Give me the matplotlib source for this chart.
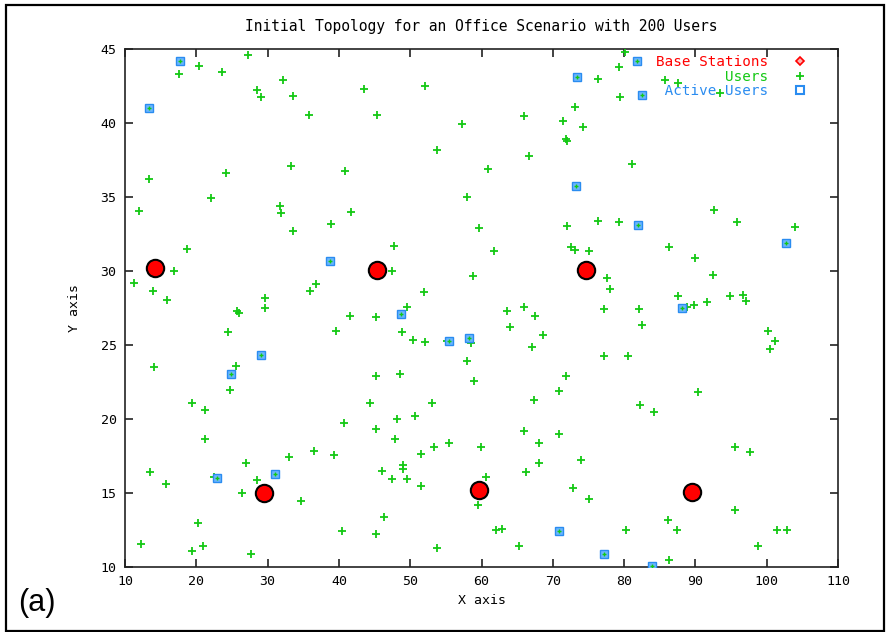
import matplotlib
matplotlib.use("Agg")
import matplotlib.pyplot as plt
from matplotlib.lines import Line2D
from matplotlib.patches import Rectangle

# ---- data ----
bs_x = [14.2, 45.3, 74.7, 29.5, 59.7, 89.5]
bs_y = [30.2, 30.05, 30.05, 15.0, 15.2, 15.1]

users_x = [20.4, 17.6, 23.6, 27.3, 32.1, 28.5, 29.1, 33.6, 35.8, 33.3, 40.9, 13.4, 24.1, 22.0, 12.0,
           31.7, 31.9, 41.7, 38.9, 33.6, 18.65, 16.9, 11.3, 13.9, 15.85, 36.8, 35.9, 29.6, 29.6, 25.7,
           26.0, 41.6, 24.45, 39.6, 14.1, 25.6, 24.7, 19.35, 21.2, 40.7, 21.2, 36.45, 39.3, 32.95, 27.0,
           13.5, 15.7, 22.5, 28.5, 26.45, 34.7, 20.3, 40.5, 12.3, 21.0, 19.35, 27.7, 43.5, 52.1, 45.4,
           57.3, 66.0, 76.3, 73.1, 71.5, 74.2, 71.8, 72.0, 53.7, 66.6, 60.9, 58.0, 59.7, 72.0, 76.4,
           47.7, 61.8, 72.5, 73.05, 75.1, 47.4, 58.85, 52.0, 49.6, 65.9, 63.6, 45.25, 67.5, 64.0, 68.6,
           67.1, 48.8, 50.4, 52.1, 55.2, 58.5, 58.0, 45.25, 48.6, 59.0, 71.85, 70.8, 44.4, 53.0, 67.3,
           48.2, 50.7, 45.25, 47.9, 66.0, 70.8, 55.5, 53.4, 51.5, 59.9, 68.0, 73.9, 68.0, 49.0, 49.0,
           46.0, 66.2, 47.4, 49.5, 60.6, 51.5, 72.9, 75.1, 59.55, 46.3, 45.25, 62.0, 62.9, 53.7, 65.2,
           80.1, 79.3, 79.4, 85.8, 87.6, 93.4, 81.1, 92.6, 79.3, 95.8, 103.9, 86.3, 90.0, 92.5, 77.6,
           78.0, 87.6, 94.9, 96.7, 97.1, 91.6, 89.8, 88.8, 77.2, 82.1, 82.5, 100.2, 101.1, 100.4, 77.2,
           80.5, 90.4, 82.3, 84.2, 95.5, 97.6, 95.6, 86.2, 80.3, 87.4, 101.5, 102.9, 98.8, 86.3]
users_y = [43.85, 43.3, 43.45, 44.6, 42.9, 42.2, 41.75, 41.85, 40.55, 37.1, 36.75, 36.2, 36.6, 34.9, 34.05,
           34.4, 33.9, 34.0, 33.2, 32.7, 31.5, 30.0, 29.2, 28.65, 28.05, 29.15, 28.65, 28.2, 27.5, 27.3,
           27.15, 26.96, 25.85, 25.95, 23.5, 23.6, 21.95, 21.05, 20.6, 19.75, 18.65, 17.85, 17.55, 17.4, 17.0,
           16.4, 15.6, 16.05, 15.9, 15.0, 14.45, 13.0, 12.4, 11.55, 11.4, 11.1, 10.9, 42.3, 42.5, 40.55,
           39.9, 40.5, 42.95, 41.1, 40.15, 39.7, 38.9, 38.8, 38.2, 37.8, 36.9, 35.0, 32.9, 33.05, 33.4,
           31.7, 31.35, 31.6, 31.45, 31.35, 30.0, 29.66, 28.6, 27.6, 27.6, 27.3, 26.9, 26.95, 26.2, 25.7,
           24.85, 25.85, 25.36, 25.2, 25.3, 25.15, 23.9, 22.9, 23.05, 22.55, 22.9, 21.9, 21.1, 21.05, 21.3,
           20.0, 20.2, 19.3, 18.65, 19.2, 19.0, 18.4, 18.1, 17.65, 18.1, 18.4, 17.25, 17.0, 16.9, 16.6,
           16.5, 16.4, 15.95, 15.95, 16.05, 15.5, 15.35, 14.6, 14.2, 13.4, 12.2, 12.5, 12.6, 11.3, 11.45,
           44.8, 43.8, 41.75, 42.9, 42.7, 42.0, 37.2, 34.1, 33.3, 33.3, 33.0, 31.6, 30.9, 29.7, 29.5,
           28.8, 28.3, 28.3, 28.4, 28.0, 27.9, 27.7, 27.6, 27.4, 27.4, 26.35, 25.95, 25.3, 24.75, 24.25,
           24.25, 21.8, 20.95, 20.45, 18.1, 17.75, 13.85, 13.15, 12.5, 12.5, 12.5, 12.5, 11.4, 10.5]

active_x = [17.76, 13.4, 73.4, 81.8, 82.5, 73.3, 82.0, 38.75, 102.7, 88.1,
            48.75, 55.4, 58.3, 29.1, 24.9, 31.1, 22.85, 70.8, 77.2, 83.9]
active_y = [44.2, 41.0, 43.1, 44.2, 41.9, 35.75, 33.1, 30.7, 31.9, 27.5,
            27.1, 25.3, 25.5, 24.3, 23.05, 16.3, 16.0, 12.4, 10.9, 10.1]

x_ticks = [10, 20, 30, 40, 50, 60, 70, 80, 90, 100, 110]
y_ticks = [10, 15, 20, 25, 30, 35, 40, 45]

title = "Initial Topology for an Office Scenario with 200 Users"
legend_labels = ["Base Stations", "        Users", " Active Users"]

# ---- style ----
GREEN = "#14c814"
BLUE = "#2a8cf0"
RED = "#ff0000"
MONO = "DejaVu Sans Mono"

fig = plt.figure(figsize=(8.89, 6.32), dpi=100)
ax = fig.add_axes([125 / 889, 1 - 567 / 632, (838 - 125) / 889, (567 - 49) / 632])

ax.plot(users_x + active_x, users_y + active_y, linestyle="none", marker="+",
        markersize=6, markeredgewidth=1.3, color=GREEN, zorder=3)
ax.plot(active_x, active_y, linestyle="none", marker="s", markersize=5.5,
        markerfacecolor="#6cb6ff", markeredgecolor=BLUE, markeredgewidth=1.0,
        zorder=4)
ax.plot(active_x, active_y, linestyle="none", marker="+", markersize=3.5,
        markeredgewidth=1.0, color=GREEN, zorder=5)
ax.plot(bs_x, bs_y, linestyle="none", marker="o", markersize=12.5,
        markerfacecolor=RED, markeredgecolor="black", markeredgewidth=1.5,
        zorder=6)

ax.set_xlim(10, 110)
ax.set_ylim(10, 45)
ax.set_xticks(x_ticks)
ax.set_yticks(y_ticks)
ax.set_xticklabels([str(t) for t in x_ticks], fontfamily=MONO, fontsize=9.5)
ax.set_yticklabels([str(t) for t in y_ticks], fontfamily=MONO, fontsize=9.5)
ax.tick_params(direction="in", length=6, width=1.2, top=True, right=True,
               pad=6, colors="#222222", labelcolor="black")
for s in ax.spines.values():
    s.set_linewidth(1.2)
    s.set_color("#222222")

ax.set_xlabel("X axis", fontfamily=MONO, fontsize=9.5, labelpad=4)
ax.set_ylabel("Y axis", fontfamily=MONO, fontsize=9.5, labelpad=14)
ax.set_title(title, fontfamily=MONO, fontsize=10.5, pad=13)

handles = [
    Line2D([], [], linestyle="none", marker="D", markersize=4.5,
           markerfacecolor="#ffb0b0", markeredgecolor=RED, markeredgewidth=1.2),
    Line2D([], [], linestyle="none", marker="+", markersize=6,
           markeredgewidth=1.3, color=GREEN),
    Line2D([], [], linestyle="none", marker="s", markersize=5.5,
           markerfacecolor="white", markeredgecolor=BLUE, markeredgewidth=1.5),
]
leg = ax.legend(handles, legend_labels, loc="upper right", frameon=False,
                markerfirst=False, handlelength=1.0, handletextpad=1.75,
                labelspacing=0.03, borderaxespad=0.05,
                bbox_to_anchor=(1 - 24 / 713, 1.0),
                prop={"family": MONO, "size": 10.3})
for t, c in zip(leg.get_texts(), [RED, GREEN, BLUE]):
    t.set_color(c)

fig.text(37 / 889, 1 - 603 / 632, "(a)", fontfamily="Liberation Sans",
         fontsize=22, ha="center", va="center")

fig.patches.append(Rectangle((6 / 889, 1 / 632), (884 - 6) / 889, (627 - 1) / 632,
                             transform=fig.transFigure, fill=False,
                             edgecolor="black", linewidth=1.6))

fig.savefig("out.png", dpi=100)
